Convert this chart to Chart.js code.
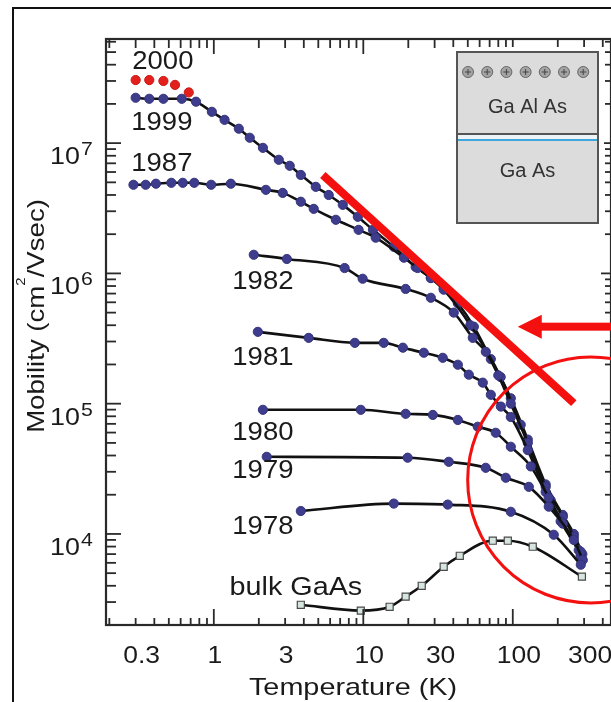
<!DOCTYPE html>
<html>
<head>
<meta charset="utf-8">
<script src="https://cdn.jsdelivr.net/npm/chart.js@4.4.0/dist/chart.umd.min.js"></script>
<style>
  html, body { margin: 0; padding: 0; background: #fff; overflow: hidden; }
  canvas { display: block; }
</style>
</head>
<body>
<canvas id="mobilityChart" width="611" height="702"></canvas>
<script>
// Temperature (K) and electron mobility (cm^2/Vsec), one pair per sample
const t2000 = [0.30, 0.37, 0.46, 0.55, 0.68];
const mu2000 = [3.05e7, 3.05e7, 3.0e7, 2.8e7, 2.45e7];

const t1999 = [0.30, 0.37, 0.46, 0.61, 0.76, 0.97, 1.18, 1.47, 1.74, 2.13, 2.72, 3.22, 3.82, 4.81, 5.87, 7.29, 9.19, 11.6, 16.0, 22.4, 28.3, 34.5, 42.9, 54.9, 71.3, 97, 126, 166, 216, 256, 292];
const mu1999 = [2.23e7, 2.19e7, 2.19e7, 2.19e7, 2.08e7, 1.74e7, 1.51e7, 1.29e7, 1.10e7, 9.2e6, 7.45e6, 6.7e6, 5.7e6, 4.62e6, 4.0e6, 3.36e6, 2.72e6, 2.16e6, 1.6e6, 1.12e6, 9.25e5, 7.7e5, 5.9e5, 3.9e5, 2.2e5, 1.1e5, 5.3e4, 2.4e4, 1.4e4, 1.0e4, 7000];

const t1987 = [0.29, 0.35, 0.41, 0.52, 0.62, 0.74, 0.96, 1.30, 2.23, 2.89, 3.82, 4.66, 6.55, 9.3, 12.1, 18.7, 23.1, 28.3, 34.5, 52, 83, 113, 179, 285];
const mu1987 = [4.79e6, 4.79e6, 4.88e6, 4.96e6, 4.96e6, 4.96e6, 4.79e6, 4.88e6, 4.38e6, 4.15e6, 3.55e6, 3.13e6, 2.58e6, 2.16e6, 1.88e6, 1.32e6, 1.1e6, 9.2e5, 7.5e5, 4.0e5, 1.6e5, 6.9e4, 1.82e4, 6900];

const t1982 = [1.85, 3.08, 7.5, 9.9, 19.2, 28.3, 40.3, 54, 66, 80, 97, 126, 166, 216, 256, 285];
const mu1982 = [1.39e6, 1.29e6, 1.10e6, 9.1e5, 7.6e5, 6.5e5, 5.0e5, 3.2e5, 2.5e5, 1.65e5, 1.0e5, 5.0e4, 2.3e4, 1.35e4, 9500, 6800];

const t1981 = [1.97, 4.31, 8.78, 13.7, 18.4, 25.4, 34.0, 42.9, 50.8, 63.0, 71.3, 83.2, 97, 126, 166, 209, 276];
const mu1981 = [3.56e5, 3.2e5, 2.93e5, 2.93e5, 2.69e5, 2.46e5, 2.25e5, 1.99e5, 1.67e5, 1.45e5, 1.17e5, 9.5e4, 7.9e4, 4.4e4, 2.1e4, 1.25e4, 7500];

const t1980 = [2.13, 9.62, 19.2, 29.2, 42.9, 58.3, 76.9, 97, 132, 174, 216, 285];
const mu1980 = [8.97e4, 8.97e4, 8.36e4, 8.2e4, 7.5e4, 6.65e4, 5.98e4, 4.67e4, 3.3e4, 1.9e4, 1.2e4, 7300];

const t1979 = [2.26, 19.8, 37.3, 65.9, 89.8, 128, 174, 256, 294];
const mu1979 = [3.91e4, 3.85e4, 3.58e4, 3.22e4, 2.7e4, 2.3e4, 1.62e4, 9000, 6300];

const t1978 = [3.82, 16.0, 36.7, 97, 188, 285];
const mu1978 = [1.5e4, 1.71e4, 1.68e4, 1.48e4, 9860, 5800];

const tBulk = [3.82, 9.62, 15.0, 19.2, 24.6, 34.5, 44.2, 73.5, 92.6, 136, 290];
const muBulk = [2860, 2580, 2760, 3300, 4000, 5600, 6800, 8870, 8870, 7980, 4700];

const xTickLabels = ['0.3', '1', '3', '10', '30', '100', '300'];
const yTickExponents = [4, 5, 6, 7];

// where each sample name sits (temperature, mobility of the text centre)
const seriesLabels = [
  { text: '2000', t: 0.456, mu: 4.21e7 },
  { text: '1999', t: 0.449, mu: 1.43e7 },
  { text: '1987', t: 0.449, mu: 6.94e6 },
  { text: '1982', t: 2.13, mu: 8.6e5 },
  { text: '1981', t: 2.13, mu: 2.22e5 },
  { text: '1980', t: 2.13, mu: 5.98e4 },
  { text: '1979', t: 2.13, mu: 3.06e4 },
  { text: '1978', t: 2.13, mu: 1.12e4 },
  { text: 'bulk GaAs', t: 3.54, mu: 3860 }
];

// red highlights: the slope bar, the arrow tip and the ringed region
const slopeBar = [[5.36, 5.7e6], [256, 1.01e5]];
const arrowTip = [108, 3.9e5];
const ringCentre = [332, 2.6e4];

const FONT = '"Liberation Sans", Arial, Helvetica, sans-serif';

function pts(t, mu) {
  return t.map((x, i) => ({ x: x, y: mu[i] }));
}

function sample(t, mu) {
  return {
    data: pts(t, mu),
    borderColor: '#111',
    borderWidth: 2.6,
    pointRadius: 4.6,
    pointBackgroundColor: '#3d3c8d',
    pointBorderColor: '#35347c',
    pointBorderWidth: 1,
    cubicInterpolationMode: 'monotone',
    fill: false
  };
}

// draw text squeezed/stretched along its own direction
function wideText(ctx, text, x, y, size, sx, align) {
  ctx.save();
  ctx.font = size + 'px ' + FONT;
  const w = ctx.measureText(text).width * sx;
  let left = x;
  if (align === 'center') left = x - w / 2;
  else if (align === 'right') left = x - w;
  ctx.translate(left, y);
  ctx.scale(sx, 1);
  ctx.textAlign = 'left';
  ctx.fillText(text, 0, 0);
  ctx.restore();
  return w;
}

function seg(ctx, x1, y1, x2, y2) {
  ctx.beginPath();
  ctx.moveTo(x1, y1);
  ctx.lineTo(x2, y2);
  ctx.stroke();
}

const decorations = {
  id: 'decorations',
  afterDraw(chart) {
    const ctx = chart.ctx;
    const xs = chart.scales.x, ys = chart.scales.y, a = chart.chartArea;
    const px = v => xs.getPixelForValue(v);
    const py = v => ys.getPixelForValue(v);
    ctx.save();

    // outer frame
    ctx.strokeStyle = '#111';
    ctx.lineWidth = 2;
    ctx.strokeRect(13, 8, 800, 800);

    // plot box
    ctx.strokeStyle = '#2a2a2a';
    ctx.lineWidth = 2.2;
    ctx.strokeRect(a.left, a.top, a.right - a.left, a.bottom - a.top);

    // log ticks, pointing inward
    ctx.lineWidth = 1.8;
    for (let d = -1; d <= 2; d++) {
      for (let m = 1; m <= 9; m++) {
        const v = m * Math.pow(10, d);
        if (v < xs.min || v > xs.max) continue;
        const x = px(v);
        const major = m === 1;
        seg(ctx, x, a.bottom, x, a.bottom - (major ? 16 : 7));
        seg(ctx, x, a.top, x, a.top + (major ? 15 : 9));
      }
    }
    for (let d = 3; d <= 7; d++) {
      for (let m = 1; m <= 9; m++) {
        const v = m * Math.pow(10, d);
        if (v < ys.min || v > ys.max) continue;
        const y = py(v);
        const major = m === 1;
        seg(ctx, a.left, y, a.left + (major ? 15 : 10), y);
        seg(ctx, a.right, y, a.right - (major ? 10 : 6), y);
      }
    }

    ctx.fillStyle = '#1a1a1a';
    ctx.textBaseline = 'alphabetic';

    // x tick labels
    xTickLabels.forEach(s => {
      const shift = s.length > 1 ? 6 : 1;
      wideText(ctx, s, px(parseFloat(s)) + shift, a.bottom + 38, 23, 1.15, 'center');
    });

    // y tick labels as 10 with a raised exponent
    yTickExponents.forEach(e => {
      const y = py(Math.pow(10, e));
      const w = wideText(ctx, '10', 50, y + 21, 24, 1.12, 'left');
      wideText(ctx, String(e), 50 + w + 1, y + 12, 19, 1.12, 'left');
    });

    // axis titles
    wideText(ctx, 'Temperature (K)', 353, 695, 24, 1.2, 'center');

    ctx.save();
    ctx.translate(44, 316);
    ctx.rotate(-Math.PI / 2);
    ctx.font = '24px ' + FONT;
    const sy = 1.15;
    const p1 = 'Mobility (cm', p3 = '/Vsec)';
    const w1 = ctx.measureText(p1).width * sy;
    ctx.font = '13px ' + FONT;
    const w2 = ctx.measureText('2').width * sy;
    ctx.font = '24px ' + FONT;
    const w3 = ctx.measureText(p3).width * sy;
    let cx = -(w1 + w2 + w3) / 2;
    cx += wideText(ctx, p1, cx, 0, 24, sy, 'left');
    cx += wideText(ctx, '2', cx, -19, 13, sy, 'left');
    wideText(ctx, p3, cx, 0, 24, sy, 'left');
    ctx.restore();

    // sample names
    ctx.textBaseline = 'middle';
    seriesLabels.forEach(l => {
      const big = l.text.length > 4;
      wideText(ctx, l.text, px(l.t), py(l.mu), 25, big ? 1.15 : 1.1, 'center');
    });

    // heterostructure sketch in the upper right corner
    const bx = a.right - 154, by = a.top + 13, bw = 141, bh = 171;
    ctx.fillStyle = '#fff';
    ctx.fillRect(bx - 7, by - 5, bw + 13, bh + 12);
    ctx.fillStyle = '#dcdcdc';
    ctx.fillRect(bx, by, bw, bh);
    ctx.strokeStyle = '#555';
    ctx.lineWidth = 2;
    ctx.strokeRect(bx, by, bw, bh);
    const split = by + 82;
    ctx.fillStyle = '#edf4f8';
    ctx.fillRect(bx + 1, split + 1, bw - 2, 5);
    seg(ctx, bx, split, bx + bw, split);
    ctx.strokeStyle = '#3ea6dc';
    ctx.lineWidth = 2;
    seg(ctx, bx + 1, split + 6, bx + bw - 1, split + 6);
    for (let i = 0; i < 7; i++) {
      const cx2 = bx + 11 + i * 19.2, cy2 = by + 20;
      ctx.beginPath();
      ctx.arc(cx2, cy2, 5.5, 0, Math.PI * 2);
      ctx.fillStyle = '#a4a4a4';
      ctx.fill();
      ctx.strokeStyle = '#666';
      ctx.lineWidth = 1;
      ctx.stroke();
      ctx.strokeStyle = '#444';
      seg(ctx, cx2 - 3, cy2, cx2 + 3, cy2);
      seg(ctx, cx2, cy2 - 3, cx2, cy2 + 3);
    }
    ctx.fillStyle = '#333';
    ctx.textBaseline = 'middle';
    wideText(ctx, 'Ga Al As', bx + bw / 2, by + 55, 20, 1, 'center');
    wideText(ctx, 'Ga As', bx + bw / 2, by + 119, 20, 1, 'center');

    // red highlights
    ctx.strokeStyle = '#f4100f';
    ctx.fillStyle = '#f4100f';
    ctx.lineWidth = 8;
    ctx.lineCap = 'butt';
    seg(ctx, px(slopeBar[0][0]), py(slopeBar[0][1]), px(slopeBar[1][0]), py(slopeBar[1][1]));

    const tx = px(arrowTip[0]), ty = py(arrowTip[1]);
    ctx.beginPath();
    ctx.moveTo(tx, ty);
    ctx.lineTo(tx + 24, ty - 12);
    ctx.lineTo(tx + 24, ty + 12);
    ctx.closePath();
    ctx.fill();
    ctx.fillRect(tx + 22, ty - 4, 120, 8);

    ctx.lineWidth = 3;
    ctx.beginPath();
    ctx.arc(px(ringCentre[0]), py(ringCentre[1]), 123, 0, Math.PI * 2);
    ctx.stroke();

    ctx.restore();
  }
};

const ctx = document.getElementById('mobilityChart').getContext('2d');
const bulk = sample(tBulk, muBulk);
bulk.pointStyle = 'rect';
bulk.pointRadius = 5;
bulk.pointBackgroundColor = '#d6e6de';
bulk.pointBorderColor = '#4a4a4a';
bulk.pointBorderWidth = 1.2;

const newest = sample(t2000, mu2000);
newest.showLine = false;
newest.pointBackgroundColor = '#e3201b';
newest.pointBorderColor = '#c81a16';

const mobilityChart = new Chart(ctx, {
  type: 'line',
  data: {
    datasets: [
      bulk,
      sample(t1978, mu1978),
      sample(t1979, mu1979),
      sample(t1980, mu1980),
      sample(t1981, mu1981),
      sample(t1982, mu1982),
      sample(t1987, mu1987),
      sample(t1999, mu1999),
      newest
    ]
  },
  options: {
    responsive: false,
    animation: false,
    devicePixelRatio: 1,
    layout: { autoPadding: false, padding: { left: 106, top: 39, right: 0, bottom: 77 } },
    plugins: { legend: { display: false }, tooltip: { enabled: false } },
    scales: {
      x: {
        type: 'logarithmic', min: 0.19, max: 454,
        grid: { display: false, drawTicks: false },
        border: { display: false },
        ticks: { display: false }
      },
      y: {
        type: 'logarithmic', min: 2000, max: 6.3e7,
        grid: { display: false, drawTicks: false },
        border: { display: false },
        ticks: { display: false }
      }
    }
  },
  plugins: [decorations]
});
</script>
</body>
</html>
